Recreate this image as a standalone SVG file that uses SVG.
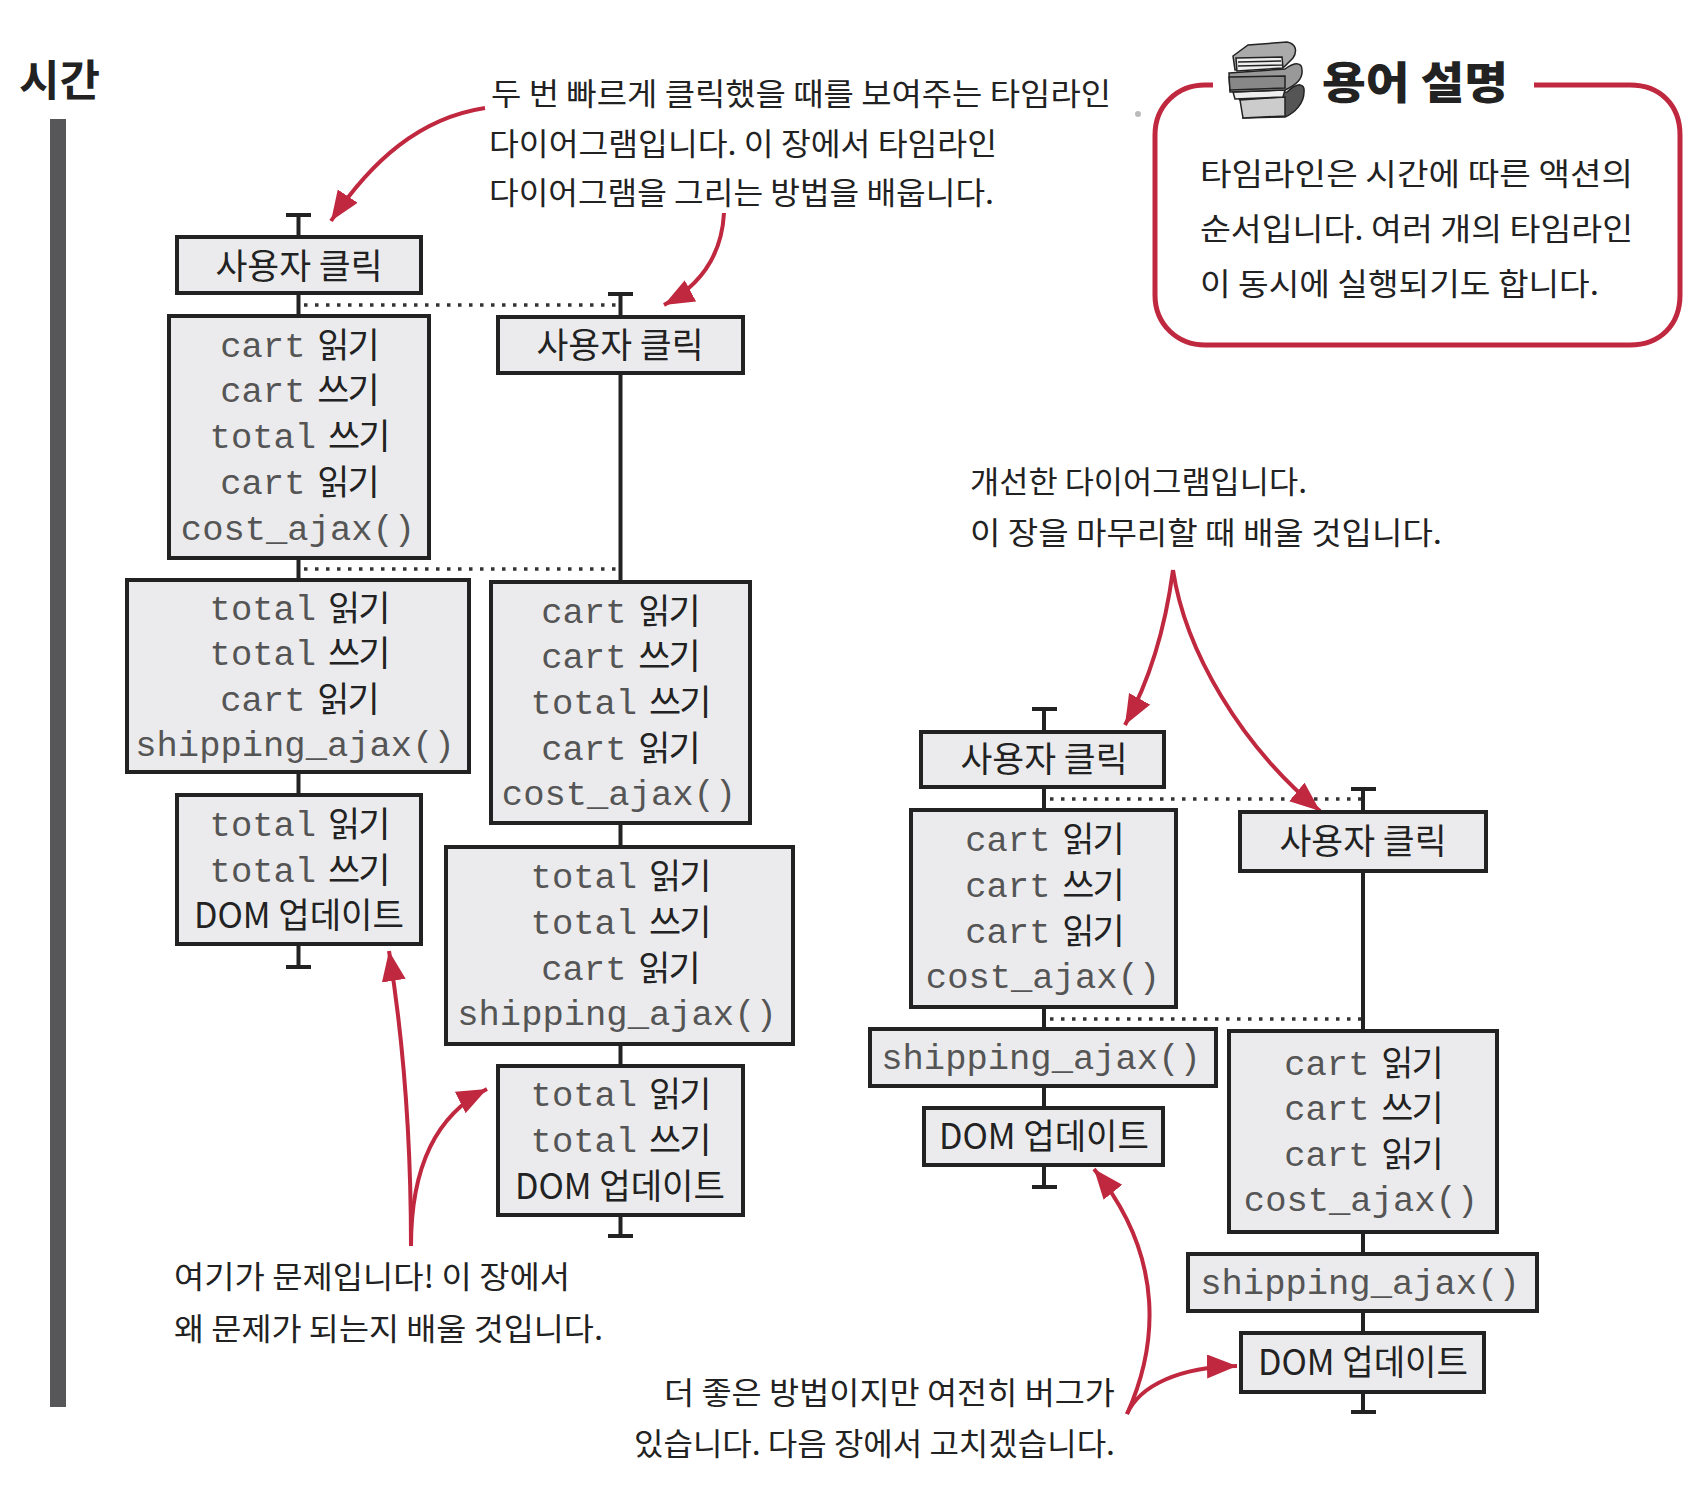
<svg xmlns="http://www.w3.org/2000/svg" width="1702" height="1506" viewBox="0 0 1702 1506">
<style>
text{font-family:"Noto Sans CJK KR","Noto Sans",sans-serif;fill:#222}
.box{fill:#ebebed;stroke:#222;stroke-width:4}
.l{text-anchor:middle;font-size:35px;fill:#222}
.m{text-anchor:middle;font-family:"Liberation Mono","Noto Sans CJK KR",monospace;font-size:35.5px;fill:#555}
.k{font-family:"Noto Sans CJK KR",sans-serif;font-size:35px;fill:#222;letter-spacing:-2px}
.n{font-size:31px;fill:#222}
.tl{stroke:#222;stroke-width:4;fill:none}
.dot{stroke:#333;stroke-width:3.5;stroke-dasharray:3.5 7.5;fill:none}
.red{stroke:#c0283f;stroke-width:4;fill:none;marker-end:url(#ah)}
</style>
<defs>
<marker id="ah" markerUnits="userSpaceOnUse" markerWidth="32" markerHeight="26" refX="30" refY="12" orient="auto">
<path d="M0 0L30 12L0 24Z" fill="#c0283f"/>
</marker>
</defs>
<rect width="1702" height="1506" fill="#fff"/>
<g id="time-axis">
<text x="19" y="96" font-size="43" font-weight="700" textLength="81" lengthAdjust="spacingAndGlyphs">시간</text>
<rect x="50" y="119" width="16" height="1288" fill="#575759"/>
</g>
<g id="connectors">
<path class="tl" d="M298.500 215V967M286 215H311M286 967H311"/>
<path class="tl" d="M620.500 294V1236M608 294H633M608 1236H633"/>
<path class="tl" d="M1044 709V1187M1032 709H1057M1032 1187H1057"/>
<path class="tl" d="M1363 789V1412M1351 789H1376M1351 1412H1376"/>
<path class="dot" d="M304 305H618M304 569H618M1050 799H1361M1050 1019H1361"/>
<path class="red" d="M485 108C420 118 372 160 331 221"/>
<path class="red" d="M724 213C722 250 705 283 664 305"/>
<path class="red" d="M1173 570C1165 630 1150 680 1125 725"/>
<path class="red" d="M1173 570C1185 650 1240 745 1320 811"/>
<path class="red" d="M411 1246C411 1150 405 1050 389 951"/>
<path class="red" d="M411 1246C411 1170 435 1115 487 1089"/>
<path class="red" d="M1127 1414C1156 1350 1168 1260 1094 1169"/>
<path class="red" d="M1127 1414C1140 1385 1180 1367 1237 1366"/>
</g>
<g id="a1"><rect class="box" x="177" y="237" width="244" height="56"/><text class="l" x="299" y="279" textLength="167" lengthAdjust="spacingAndGlyphs">사용자 클릭</text></g>
<g id="a2"><rect class="box" x="169" y="316" width="260" height="242"/>
<text class="m" x="299" y="357">cart<tspan class="k" dx="6" dy="1"> 읽기</tspan></text>
<text class="m" x="299" y="402">cart<tspan class="k" dx="6" dy="1"> 쓰기</tspan></text>
<text class="m" x="299" y="448">total<tspan class="k" dx="6" dy="1"> 쓰기</tspan></text>
<text class="m" x="299" y="494">cart<tspan class="k" dx="6" dy="1"> 읽기</tspan></text>
<text class="m" x="298" y="540">cost_ajax()</text></g>
<g id="a3"><rect class="box" x="127" y="580" width="342" height="192"/>
<text class="m" x="299" y="620">total<tspan class="k" dx="6" dy="1"> 읽기</tspan></text>
<text class="m" x="299" y="665">total<tspan class="k" dx="6" dy="1"> 쓰기</tspan></text>
<text class="m" x="299" y="711">cart<tspan class="k" dx="6" dy="1"> 읽기</tspan></text>
<text class="m" x="295" y="756">shipping_ajax()</text></g>
<g id="a4"><rect class="box" x="177" y="795" width="244" height="149"/>
<text class="m" x="299" y="836">total<tspan class="k" dx="6" dy="1"> 읽기</tspan></text>
<text class="m" x="299" y="882">total<tspan class="k" dx="6" dy="1"> 쓰기</tspan></text>
<text class="l" x="299" y="928" textLength="210" lengthAdjust="spacingAndGlyphs">DOM 업데이트</text></g>
<g id="b1"><rect class="box" x="498" y="317" width="245" height="56"/><text class="l" x="620" y="358" textLength="167" lengthAdjust="spacingAndGlyphs">사용자 클릭</text></g>
<g id="b2"><rect class="box" x="491" y="582" width="259" height="241"/>
<text class="m" x="620" y="623">cart<tspan class="k" dx="6" dy="1"> 읽기</tspan></text>
<text class="m" x="620" y="668">cart<tspan class="k" dx="6" dy="1"> 쓰기</tspan></text>
<text class="m" x="620" y="714">total<tspan class="k" dx="6" dy="1"> 쓰기</tspan></text>
<text class="m" x="620" y="760">cart<tspan class="k" dx="6" dy="1"> 읽기</tspan></text>
<text class="m" x="619" y="805">cost_ajax()</text></g>
<g id="b3"><rect class="box" x="446" y="847" width="347" height="197"/>
<text class="m" x="620" y="888">total<tspan class="k" dx="6" dy="1"> 읽기</tspan></text>
<text class="m" x="620" y="934">total<tspan class="k" dx="6" dy="1"> 쓰기</tspan></text>
<text class="m" x="620" y="980">cart<tspan class="k" dx="6" dy="1"> 읽기</tspan></text>
<text class="m" x="617" y="1025">shipping_ajax()</text></g>
<g id="b4"><rect class="box" x="498" y="1066" width="245" height="149"/>
<text class="m" x="620" y="1106">total<tspan class="k" dx="6" dy="1"> 읽기</tspan></text>
<text class="m" x="620" y="1152">total<tspan class="k" dx="6" dy="1"> 쓰기</tspan></text>
<text class="l" x="620" y="1199" textLength="210" lengthAdjust="spacingAndGlyphs">DOM 업데이트</text></g>
<g id="c1"><rect class="box" x="921" y="732" width="243" height="55"/><text class="l" x="1044" y="772" textLength="167" lengthAdjust="spacingAndGlyphs">사용자 클릭</text></g>
<g id="c2"><rect class="box" x="911" y="810" width="265" height="197"/>
<text class="m" x="1044" y="851">cart<tspan class="k" dx="6" dy="1"> 읽기</tspan></text>
<text class="m" x="1044" y="897">cart<tspan class="k" dx="6" dy="1"> 쓰기</tspan></text>
<text class="m" x="1044" y="943">cart<tspan class="k" dx="6" dy="1"> 읽기</tspan></text>
<text class="m" x="1043" y="988">cost_ajax()</text></g>
<g id="c3"><rect class="box" x="870" y="1029" width="346" height="57"/><text class="m" x="1041" y="1069">shipping_ajax()</text></g>
<g id="c4"><rect class="box" x="924" y="1108" width="239" height="57"/><text class="l" x="1044" y="1149" textLength="210" lengthAdjust="spacingAndGlyphs">DOM 업데이트</text></g>
<g id="d1"><rect class="box" x="1240" y="812" width="246" height="59"/><text class="l" x="1363" y="854" textLength="167" lengthAdjust="spacingAndGlyphs">사용자 클릭</text></g>
<g id="d2"><rect class="box" x="1229" y="1031" width="268" height="201"/>
<text class="m" x="1363" y="1075">cart<tspan class="k" dx="6" dy="1"> 읽기</tspan></text>
<text class="m" x="1363" y="1120">cart<tspan class="k" dx="6" dy="1"> 쓰기</tspan></text>
<text class="m" x="1363" y="1166">cart<tspan class="k" dx="6" dy="1"> 읽기</tspan></text>
<text class="m" x="1361" y="1211">cost_ajax()</text></g>
<g id="d3"><rect class="box" x="1188" y="1254" width="349" height="57"/><text class="m" x="1360" y="1294">shipping_ajax()</text></g>
<g id="d4"><rect class="box" x="1241" y="1333" width="243" height="59"/><text class="l" x="1363" y="1375" textLength="210" lengthAdjust="spacingAndGlyphs">DOM 업데이트</text></g>
<g id="note-top">
<text class="n" x="491" y="105" textLength="620" lengthAdjust="spacingAndGlyphs">두 번 빠르게 클릭했을 때를 보여주는 타임라인</text>
<text class="n" x="489" y="155" textLength="508" lengthAdjust="spacingAndGlyphs">다이어그램입니다. 이 장에서 타임라인</text>
<text class="n" x="489" y="204" textLength="505" lengthAdjust="spacingAndGlyphs">다이어그램을 그리는 방법을 배웁니다.</text>
</g>
<g id="note-improved">
<text class="n" x="970" y="493" textLength="337" lengthAdjust="spacingAndGlyphs">개선한 다이어그램입니다.</text>
<text class="n" x="970" y="544" textLength="472" lengthAdjust="spacingAndGlyphs">이 장을 마무리할 때 배울 것입니다.</text>
</g>
<g id="note-problem">
<text class="n" x="174" y="1288" textLength="396" lengthAdjust="spacingAndGlyphs">여기가 문제입니다! 이 장에서</text>
<text class="n" x="174" y="1340" textLength="429" lengthAdjust="spacingAndGlyphs">왜 문제가 되는지 배울 것입니다.</text>
</g>
<g id="note-better">
<text class="n" x="664" y="1404" textLength="451" lengthAdjust="spacingAndGlyphs">더 좋은 방법이지만 여전히 버그가</text>
<text class="n" x="634" y="1455" textLength="481" lengthAdjust="spacingAndGlyphs">있습니다. 다음 장에서 고치겠습니다.</text>
</g>
<g id="glossary">
<circle cx="1138" cy="114" r="3" fill="#bbb"/>
<path d="M1213 85H1205C1178 85 1155 105 1155 135V295C1155 325 1178 345 1205 345H1630C1660 345 1680 325 1680 295V135C1680 105 1660 85 1630 85H1534" fill="none" stroke="#c0283f" stroke-width="5"/>
<g id="books" stroke="#222" stroke-width="1.500">
<path d="M1235 95L1287 92C1298 82 1305 83 1304 92C1304 103 1295 113 1285 117L1243 118L1245 105Z" fill="#555"/>
<path d="M1240 100L1285 97L1285 116L1243 118Z" fill="#ccc"/>
<path d="M1233 92L1285 90L1283 97L1235 99Z" fill="#eee"/>
<path d="M1229 73L1285 69C1295 62 1302 62 1302 70C1303 78 1296 85 1285 90L1230 92Z" fill="#999"/>
<path d="M1229 77L1285 76L1285 88L1230 90Z" fill="#888"/>
<path d="M1233 56L1248 45L1287 42C1297 44 1297 52 1293 58L1284 67L1235 70Z" fill="#aaa"/>
<path d="M1236 58L1282 57L1283 68L1237 71ZM1238 62L1281 61M1238 66L1282 65" fill="#eee"/>
</g>
<text x="1322" y="99" font-size="44" font-weight="900" fill="#111" textLength="186" lengthAdjust="spacingAndGlyphs">용어 설명</text>
<text class="n" x="1200" y="185" font-size="33" textLength="433" lengthAdjust="spacingAndGlyphs">타임라인은 시간에 따른 액션의</text>
<text class="n" x="1200" y="240" font-size="33" textLength="433" lengthAdjust="spacingAndGlyphs">순서입니다. 여러 개의 타임라인</text>
<text class="n" x="1200" y="295" font-size="33" textLength="399" lengthAdjust="spacingAndGlyphs">이 동시에 실행되기도 합니다.</text>
</g>
</svg>
